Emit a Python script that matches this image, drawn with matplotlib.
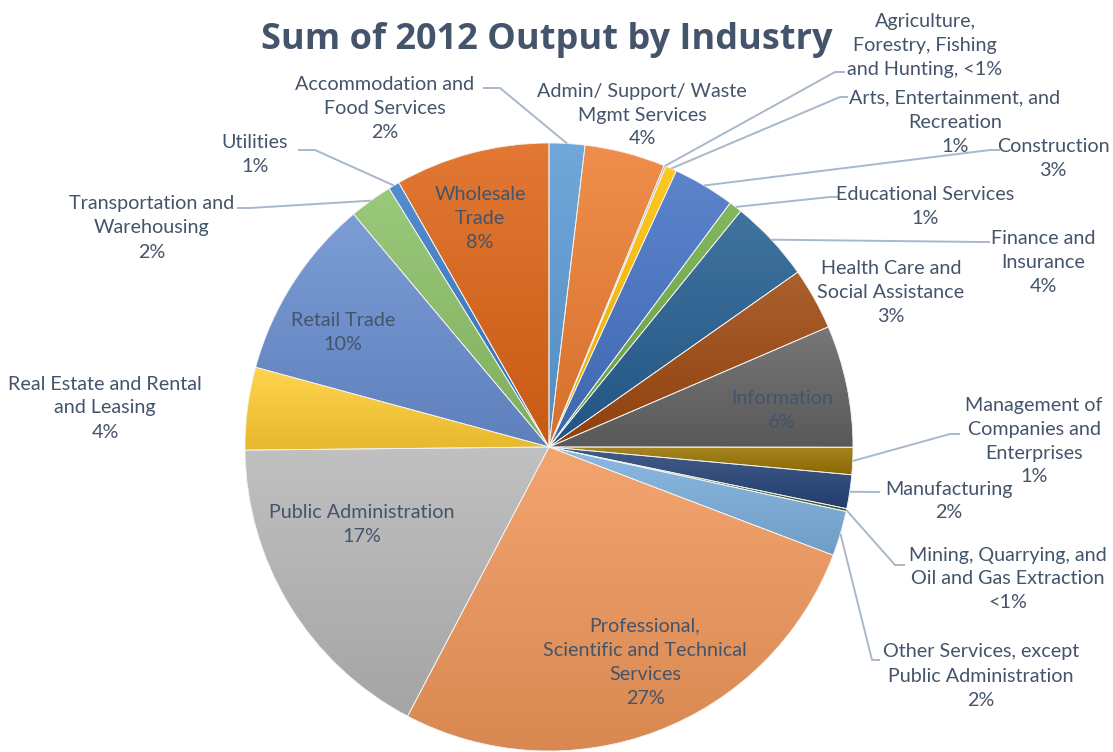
import matplotlib.pyplot as plt
import numpy as np
from matplotlib.colors import to_rgb

# 2012 output share by industry (percent of total)
industries = [
    "Accommodation and\nFood Services",
    "Admin/ Support/ Waste\nMgmt Services",
    "Agriculture,\nForestry, Fishing\nand Hunting,",
    "Arts, Entertainment, and\nRecreation",
    "Construction",
    "Educational Services",
    "Finance and\nInsurance",
    "Health Care and\nSocial Assistance",
    "Information",
    "Management of\nCompanies and\nEnterprises",
    "Manufacturing",
    "Mining, Quarrying, and\nOil and Gas Extraction",
    "Other Services, except\nPublic Administration",
    "Professional,\nScientific and Technical\nServices",
    "Public Administration",
    "Real Estate and Rental\nand Leasing",
    "Retail Trade",
    "Transportation and\nWarehousing",
    "Utilities",
    "Wholesale\nTrade",
]
output_pct = [1.9, 4.3, 0.1, 0.6, 3.3, 0.7, 4.4, 3.3, 6.5, 1.45,
              1.8, 0.15, 2.4, 27.0, 17.2, 4.4, 9.7, 2.3, 0.6, 8.25]
colors = ["#5B9BD5", "#ED7D31", "#A5A5A5", "#FFC000", "#4472C4", "#70AD47",
          "#255E91", "#9E480E", "#636363", "#997300", "#264478", "#43682B",
          "#7CAFDD", "#F1975A", "#B7B7B7", "#FFCD33", "#698ED0", "#8CC168",
          "#3A7BC8", "#DE6416"]

TXT = "#44546A"
LEAD = "#A9B8C9"
H = 752
CX, CY, R = 549, H - 447, 304

# label layout in screen pixels (top-down y): text centre, elbow, line end x
layout = {
    0: ((385, 108), (500, 88), 483),
    1: ((642, 115), None, None),
    2: ((925, 45), (835, 72), 845),
    3: ((955, 122), (840, 97), 848),
    4: ((1053, 159), (990, 150), 1000),
    5: ((925, 206), (830, 197), 838),
    6: ((1043, 262), (980, 242), 990),
    7: ((891, 292), None, None),
    8: ((782, 410), None, None),
    9: ((1034, 441), (950, 434), 960),
    10: ((949, 501), (880, 492), 880),
    11: ((1008, 579), (895, 565), 905),
    12: ((981, 676), (872, 660), 880),
    13: ((645, 662), None, None),
    14: ((362, 524), None, None),
    15: ((105, 408), None, None),
    16: ((343, 332), None, None),
    17: ((152, 228), (250, 208), 237),
    18: ((255, 154), (315, 150), 298),
    19: ((480, 219), None, None),
}


def pct_text(v):
    return "<1%" if v < 0.5 else f"{round(v)}%"


fig = plt.figure(figsize=(11.13, 7.52), dpi=100)
ax = fig.add_axes([0, 0, 1, 1])

wedges, _ = ax.pie(output_pct, colors=colors, startangle=90, counterclock=False,
                   center=(CX, CY), radius=R, frame=True,
                   wedgeprops=dict(edgecolor="#F2F2F2", linewidth=0.6))

# vertical gradient inside each slice: lighter at top, darker at bottom
for w, c in zip(wedges, colors):
    base = np.array(to_rgb(c))
    top = base + (1 - base) * 0.13
    bot = base * 0.9
    t = np.linspace(0, 1, 64)[:, None]
    grad = (top * (1 - t) + bot * t)[:, None, :]
    ext = w.get_path().get_extents()
    im = ax.imshow(grad, extent=(ext.x0, ext.x1, ext.y0, ext.y1), origin="upper",
                   aspect="auto", zorder=w.get_zorder() + 0.1, interpolation="bilinear")
    im.set_clip_path(w)
    w.set_facecolor("none")
    w.set_zorder(w.get_zorder() + 0.2)

ax.set_xlim(0, 1113)
ax.set_ylim(0, H)
ax.axis("off")

for i, (name, v) in enumerate(zip(industries, output_pct)):
    sep = " " if i == 2 else "\n"
    text = name + sep + pct_text(v)
    (tx, ty), elbow, endx = layout[i]
    ax.text(tx, H - ty, text, ha="center", va="center", fontsize=14.2,
            color=TXT, family="Lato", linespacing=1.5, zorder=10)
    if elbow is not None:
        w = wedges[i]
        mid = np.deg2rad((w.theta1 + w.theta2) / 2)
        rx, ry = CX + R * np.cos(mid), CY + R * np.sin(mid)
        ex, ey = elbow[0], H - elbow[1]
        ax.plot([rx, ex, endx], [ry, ey, ey], color=LEAD, lw=1.4, zorder=9,
                solid_capstyle="butt")

ax.text(547, H - 40, "Sum of 2012 Output by Industry", ha="center", va="center",
        fontsize=26, fontweight="bold", color=TXT, family="Open Sans")

fig.savefig("out.png", dpi=100)
